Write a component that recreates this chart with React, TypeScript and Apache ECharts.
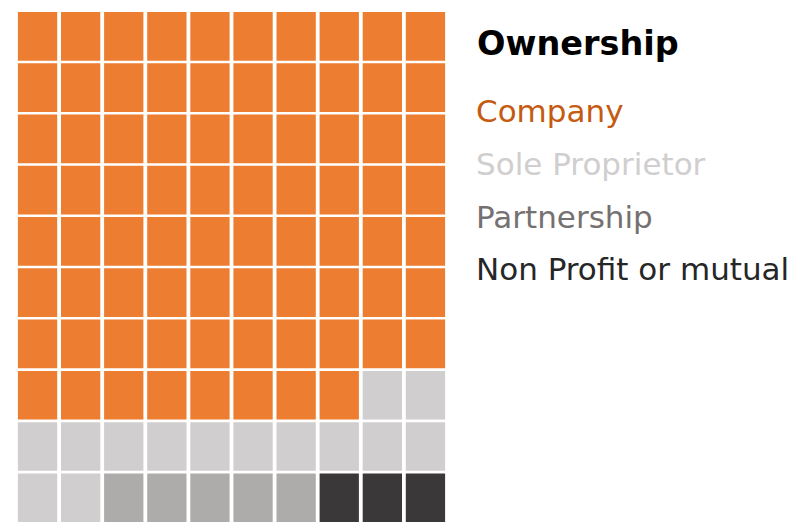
import React, { useEffect, useRef } from "react";
import * as echarts from "echarts";

const categories = ["Company", "Sole Proprietor", "Partnership", "Non Profit or mutual"];
const counts = [78, 14, 5, 3];
const cellColors = ["#ED7D31", "#D0CECE", "#AEABAB", "#3A3838"];
const textColors = ["#C55A11", "#D0CECE", "#767171", "#262626"];
const gridCols = ["0", "1", "2", "3", "4", "5", "6", "7", "8", "9"];
const gridRows = ["0", "1", "2", "3", "4", "5", "6", "7", "8", "9"];
const titleText = "Ownership";

export default function App() {
  const ref = useRef<HTMLDivElement>(null);
  useEffect(() => {
    if (!ref.current) return;
    const chart = echarts.init(ref.current, null, { renderer: "svg" });
    let idx = 0;
    const series = categories.map((name, ci) => {
      const data: number[][] = [];
      for (let k = 0; k < counts[ci]; k++) {
        data.push([idx % 10, Math.floor(idx / 10)]);
        idx++;
      }
      return {
        type: "custom",
        name,
        data,
        itemStyle: { color: cellColors[ci] },
        renderItem: (params: any, api: any) => {
          const c = api.coord([api.value(0), api.value(1)]);
          const s = api.size([1, 1]);
          const w = s[0] - 3.8;
          const h = s[1] - 2.6;
          return {
            type: "rect",
            shape: { x: c[0] - w / 2, y: c[1] - h / 2, width: w, height: h },
            style: { fill: cellColors[ci] },
          };
        },
      };
    });
    chart.setOption({
      animation: false,
      title: {
        text: titleText,
        left: 477,
        top: 26,
        padding: 0,
        textStyle: { fontFamily: "DejaVu Sans", fontWeight: "bold", fontSize: 33.5, color: "#000000" },
      },
      legend: {
        orient: "vertical",
        left: 471,
        top: 93,
        padding: 0,
        itemWidth: 0,
        itemHeight: 0,
        itemGap: 16.8,
        icon: "rect",
        selectedMode: false,
        data: categories.map((name, i) => ({ name, textStyle: { color: textColors[i] } })),
        textStyle: { fontFamily: "DejaVu Sans", fontSize: 31, lineHeight: 36 },
      },
      grid: { left: 16, top: 10.7, width: 431, height: 512.7 },
      xAxis: { type: "category", data: gridCols, show: false },
      yAxis: { type: "category", data: gridRows, inverse: true, show: false },
      series,
    });
    return () => chart.dispose();
  }, []);
  return <div ref={ref} style={{ width: 797, height: 527, position: "absolute", left: 0, top: 0 }} />;
}
